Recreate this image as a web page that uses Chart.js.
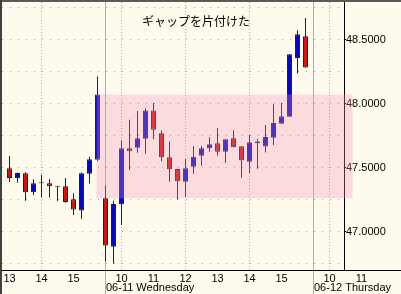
<!DOCTYPE html>
<html>
<head>
<meta charset="utf-8">
<script src="https://cdn.jsdelivr.net/npm/chart.js@4.4.0/dist/chart.umd.min.js"></script>
<style>
html, body { margin: 0; padding: 0; background: #fffaee; }
canvas { display: block; }
</style>
</head>
<body>
<canvas id="chart" width="401" height="294"></canvas>
<script>
// 15 minute candles, index 0 = 13:00 of the previous day
var opens  = [47.494, 47.416, 47.455, 47.307, 47.377, 47.377, 47.350, 47.353, 47.252, 47.163, 47.452, 47.560,
              47.260, 46.880, 47.213, 47.650, 47.654, 47.725, 47.946, 47.767, 47.580, 47.488, 47.389, 47.506,
              47.592, 47.650, 47.689, 47.623, 47.728, 47.665, 47.545, 47.704, 47.663, 47.732, 47.842, 47.896,
              48.356, 48.526];
var highs  = [47.590, 47.460, 47.463, 47.408, 47.441, 47.410, 47.352, 47.418, 47.299, 47.460, 47.584, 48.210,
              47.360, 47.240, 47.710, 47.873, 47.941, 47.962, 48.003, 47.790, 47.704, 47.490, 47.566, 47.668,
              47.668, 47.736, 47.808, 47.720, 47.790, 47.665, 47.753, 47.725, 47.831, 47.995, 48.005, 48.385,
              48.573, 48.668];
var lows   = [47.387, 47.381, 47.241, 47.285, 47.268, 47.265, 47.239, 47.225, 47.129, 47.098, 47.374, 47.550,
              46.770, 46.750, 47.050, 47.480, 47.615, 47.608, 47.720, 47.548, 47.389, 47.252, 47.272, 47.452,
              47.514, 47.623, 47.592, 47.537, 47.658, 47.420, 47.457, 47.491, 47.618, 47.676, 47.840, 47.896,
              48.235, 48.280];
var closes = [47.418, 47.457, 47.307, 47.377, 47.377, 47.353, 47.350, 47.231, 47.171, 47.455, 47.564, 48.070,
              46.890, 47.215, 47.650, 47.627, 47.728, 47.946, 47.795, 47.580, 47.486, 47.392, 47.494, 47.584,
              47.650, 47.681, 47.623, 47.720, 47.658, 47.556, 47.697, 47.689, 47.738, 47.847, 47.900, 48.385,
              48.541, 48.282];

var hourTicks  = [0, 4, 8, 14, 18, 22, 26, 30, 34, 40, 44];
var hourLabels = ['13', '14', '15', '10', '11', '12', '13', '14', '15', '10', '11'];
var dayStarts  = [12, 38];
var dayLabels  = ['06-11 Wednesday', '06-12 Thursday'];
var priceTicks = [46.75, 47, 47.25, 47.5, 47.75, 48, 48.25, 48.5, 48.75];
var noteText   = 'ギャップを片付けた';

var bodies = [], wicks = [], bodyColors = [];
for (var i = 0; i < opens.length; i++) {
    bodies.push({x: i, y: [opens[i], closes[i]]});
    wicks.push({x: i, y: [lows[i], highs[i]]});
    if (closes[i] > opens[i]) bodyColors.push('#0000ff');
    else if (closes[i] < opens[i]) bodyColors.push('#ff0000');
    else bodyColors.push('#222222');
}

function isMajor(v) {
    return Math.abs(v * 2 - Math.round(v * 2)) < 1e-6;
}

var decor = {
    id: 'decor',
    beforeDraw: function(chart) {
        var ctx = chart.ctx;
        ctx.save();
        ctx.fillStyle = '#fffaee';
        ctx.fillRect(0, 0, chart.width, chart.height);
        ctx.restore();
    },
    beforeDatasetsDraw: function(chart) {
        var ctx = chart.ctx, xs = chart.scales.x, a = chart.chartArea;
        ctx.save();
        ctx.lineWidth = 1;
        // dotted grid on even hours
        ctx.strokeStyle = '#aaaaaa';
        ctx.setLineDash([1, 2]);
        for (var k = 0; k < hourTicks.length; k++) {
            if (parseInt(hourLabels[k], 10) % 2 !== 0) continue;
            var px = xs.getPixelForValue(hourTicks[k]);
            if (px > a.right) continue;
            ctx.beginPath();
            ctx.moveTo(px, a.top);
            ctx.lineTo(px, a.bottom);
            ctx.stroke();
        }
        // day separators
        ctx.setLineDash([]);
        ctx.strokeStyle = '#b2aea6';
        for (var d = 0; d < dayStarts.length; d++) {
            var sx = xs.getPixelForValue(dayStarts[d]);
            ctx.beginPath();
            ctx.moveTo(sx, 0);
            ctx.lineTo(sx, chart.height);
            ctx.stroke();
        }
        ctx.restore();
    },
    afterDatasetsDraw: function(chart) {
        var ctx = chart.ctx, xs = chart.scales.x, ys = chart.scales.y, a = chart.chartArea;
        ctx.save();
        // gap zone: previous day's close to the new day's open
        var zx1 = xs.getPixelForValue(10.9), zx2 = xs.getPixelForValue(42.9);
        var zy1 = ys.getPixelForValue(closes[11]), zy2 = ys.getPixelForValue(opens[12]);
        ctx.fillStyle = 'rgba(245,150,190,0.3)';
        ctx.fillRect(zx1, zy1, zx2 - zx1, zy2 - zy1);

        // note
        ctx.fillStyle = '#000';
        ctx.font = '12px "Noto Sans CJK JP"';
        ctx.textAlign = 'center';
        ctx.textBaseline = 'middle';
        ctx.fillText(noteText, xs.getPixelForValue(23.3), ys.getPixelForValue(48.64));

        // time axis line
        ctx.strokeStyle = '#000';
        ctx.lineWidth = 1;
        ctx.beginPath();
        ctx.moveTo(0, a.bottom + 0.5);
        ctx.lineTo(chart.width, a.bottom + 0.5);
        ctx.stroke();

        // time labels
        ctx.font = '11px "Liberation Sans", Arial, sans-serif';
        ctx.textBaseline = 'alphabetic';
        ctx.textAlign = 'center';
        for (var k = 0; k < hourTicks.length; k++) {
            ctx.fillText(hourLabels[k], xs.getPixelForValue(hourTicks[k]), a.bottom + 12);
        }
        ctx.textAlign = 'left';
        for (var d = 0; d < dayStarts.length; d++) {
            ctx.fillText(dayLabels[d], xs.getPixelForValue(dayStarts[d]) + 0.5, a.bottom + 21);
        }

        // frame
        ctx.fillStyle = '#5a5a5a';
        ctx.fillRect(0, 0, chart.width, 2);
        ctx.fillStyle = '#404040';
        ctx.fillRect(0, 0, 2, chart.height);
        ctx.restore();
    }
};

Chart.defaults.font.family = '"Liberation Sans", Arial, sans-serif';

var ctx = document.getElementById('chart');
var myChart = new Chart(ctx, {
    type: 'bar',
    data: {
        datasets: [{
            label: 'body',
            data: bodies,
            backgroundColor: bodyColors,
            borderColor: '#222222',
            borderWidth: 1,
            borderSkipped: false,
            barThickness: 5,
            minBarLength: 1,
            grouped: false,
            inflateAmount: 0
        }, {
            label: 'wick',
            data: wicks,
            backgroundColor: '#222222',
            borderWidth: 0,
            barThickness: 1,
            grouped: false,
            inflateAmount: 0
        }]
    },
    options: {
        responsive: false,
        animation: false,
        layout: {
            padding: {left: 2, top: 2, right: 0, bottom: 24}
        },
        plugins: {
            legend: {display: false},
            tooltip: {enabled: false}
        },
        scales: {
            x: {
                type: 'linear',
                display: false,
                offset: false,
                min: -0.9375,
                max: 41.8125
            },
            y: {
                type: 'linear',
                position: 'right',
                min: 46.699,
                max: 48.793,
                afterBuildTicks: function(s) {
                    s.ticks = priceTicks.map(function(v) { return {value: v}; });
                },
                afterFit: function(s) {
                    s.width = 57;
                    s.paddingTop = 0;
                    s.paddingBottom = 0;
                },
                grid: {
                    color: '#aaaaaa',
                    lineWidth: 1,
                    tickLength: 2,
                    tickBorderDash: [],
                    tickColor: function(c) {
                        return c.tick && isMajor(c.tick.value) ? '#000' : 'rgba(0,0,0,0)';
                    }
                },
                border: {
                    display: true,
                    color: '#000',
                    width: 1,
                    dash: [1, 7]
                },
                ticks: {
                    padding: 0,
                    color: '#000',
                    font: {size: 11},
                    callback: function(v) {
                        return isMajor(v) ? v.toFixed(4) : '';
                    }
                }
            }
        }
    },
    plugins: [decor]
});
</script>
</body>
</html>
